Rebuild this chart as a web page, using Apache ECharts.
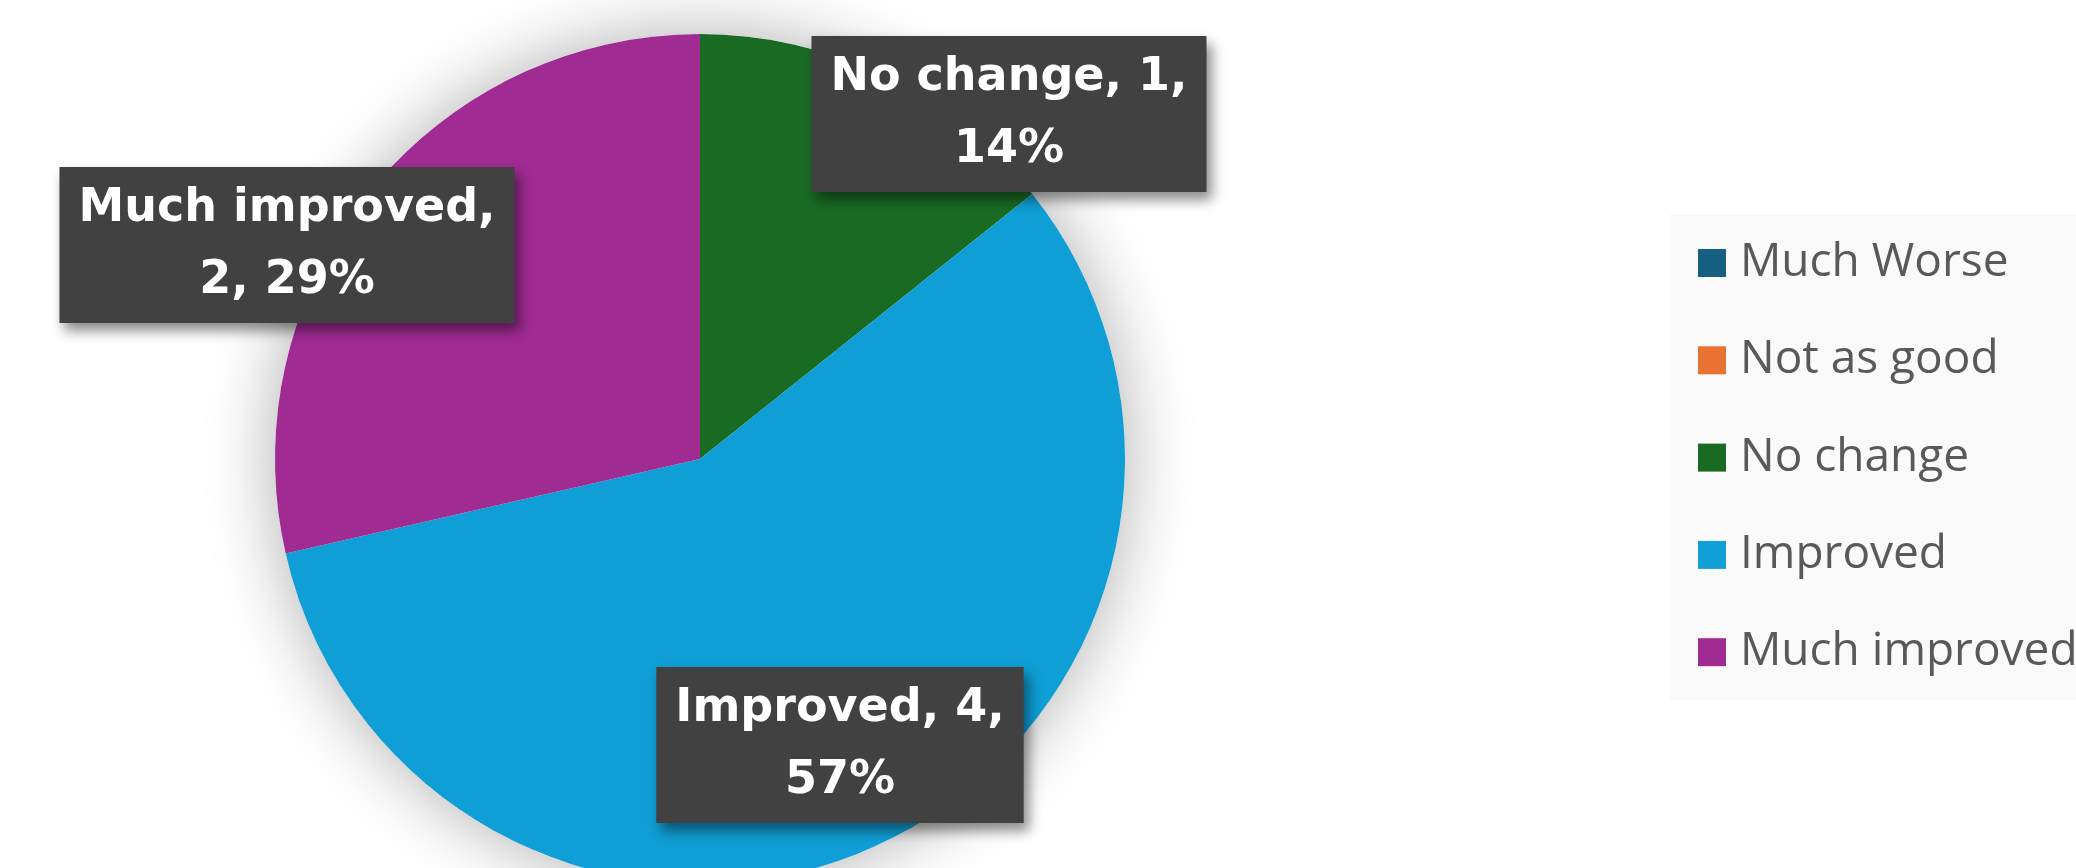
<!DOCTYPE html>
<html>
<head>
<meta charset="utf-8">
<script src="https://cdn.jsdelivr.net/npm/echarts@6/dist/echarts.min.js"></script>
<style>
  html, body { margin: 0; padding: 0; background: #ffffff; }
  #chart { width: 2076px; height: 868px; }
</style>
</head>
<body>
<div id="chart"></div>
<script>
// ---- data ----
const categories = ['Much Worse', 'Not as good', 'No change', 'Improved', 'Much improved'];
const counts = [0, 0, 1, 4, 2];
const colors = ['#156082', '#E97132', '#196B24', '#0F9ED5', '#A02B93'];

// ---- layout (label box centres, px) ----
const labelAnchors = [null, null, [1009, 114], [840, 745], [287, 245]];
const pieCenter = [700, 459];
const pieRadius = 425;

function wrapText(text, maxChars) {
  const words = text.split(' ');
  const lines = [];
  let cur = '';
  words.forEach(w => {
    const test = cur ? cur + ' ' + w : w;
    if (test.length > maxChars && cur) { lines.push(cur); cur = w; }
    else cur = test;
  });
  if (cur) lines.push(cur);
  return lines.join('\n');
}

const chart = echarts.init(document.getElementById('chart'), null, { renderer: 'canvas' });

const pieData = categories.map((name, i) => ({
  name: name,
  value: counts[i],
  itemStyle: { color: colors[i] },
  label: { show: counts[i] > 0 },
  labelLine: { show: false }
}));

chart.setOption({
  backgroundColor: '#ffffff',
  animation: false,
  legend: {
    data: categories,
    orient: 'vertical',
    left: 1670,
    top: 214,
    padding: [26, 60, 25, 28],
    backgroundColor: '#fafafa',
    itemWidth: 28,
    itemHeight: 28,
    itemGap: 51.3,
    icon: 'rect',
    selectedMode: false,
    textStyle: {
      fontFamily: 'Open Sans',
      fontSize: 46,
      color: '#595959',
      padding: [0, 0, 0, 9]
    }
  },
  series: [
    {
      type: 'pie',
      silent: true,
      center: pieCenter,
      radius: pieRadius,
      z: 1,
      label: { show: false },
      labelLine: { show: false },
      itemStyle: {
        color: '#ffffff',
        shadowBlur: 70,
        shadowColor: 'rgba(0,0,0,0.32)'
      },
      data: [{ name: '_bg', value: 1 }]
    },
    {
      type: 'pie',
      center: pieCenter,
      radius: pieRadius,
      startAngle: 90,
      clockwise: true,
      avoidLabelOverlap: false,
      z: 2,
      itemStyle: { borderWidth: 0 },
      label: {
        position: 'inside',
        fontFamily: 'DejaVu Sans',
        fontWeight: 'bold',
        fontSize: 46,
        lineHeight: 72,
        color: '#ffffff',
        backgroundColor: '#414141',
        padding: [6, 19],
        shadowColor: 'rgba(0,0,0,0.45)',
        shadowBlur: 12,
        shadowOffsetX: 5,
        shadowOffsetY: 8,
        formatter: function (p) {
          return wrapText(p.name + ', ' + p.value + ', ' + Math.round(p.percent) + '%', 14);
        }
      },
      labelLine: { show: false },
      labelLayout: function (params) {
        const a = labelAnchors[params.dataIndex];
        if (!a) return {};
        return { x: a[0], y: a[1], align: 'center', verticalAlign: 'middle' };
      },
      data: pieData
    }
  ]
});
</script>
</body>
</html>
